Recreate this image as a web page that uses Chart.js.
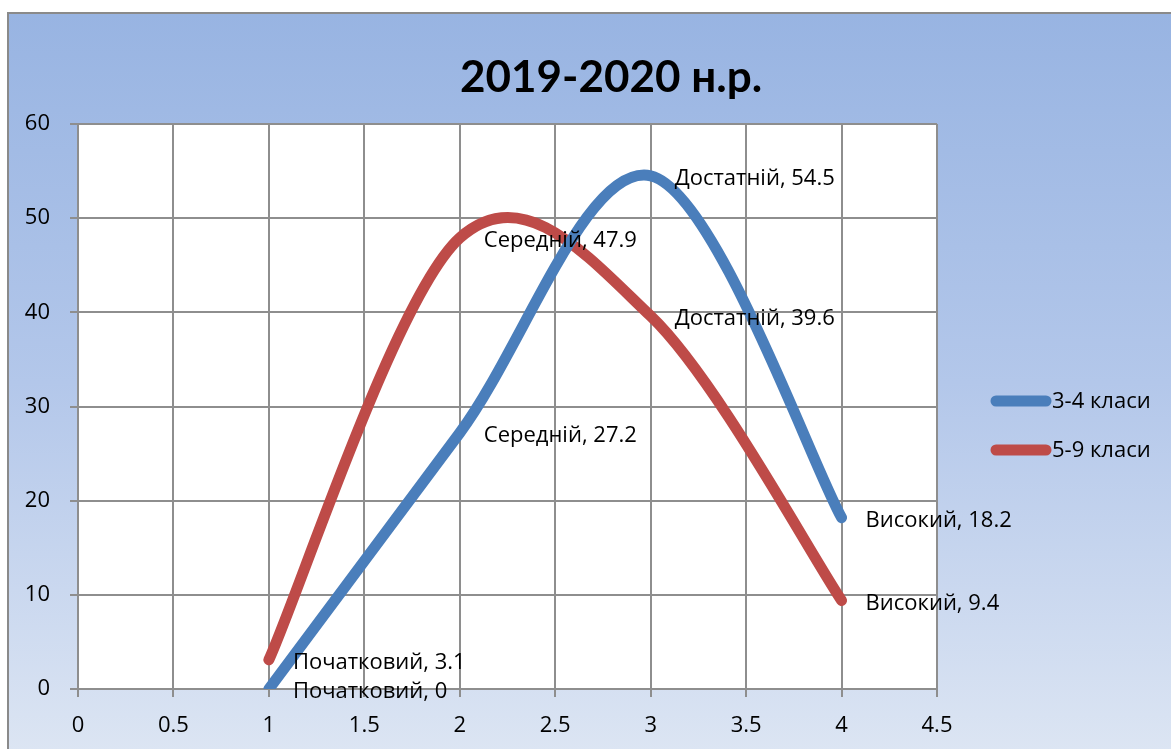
<!DOCTYPE html>
<html>
<head>
<meta charset="utf-8">
<script src="https://cdn.jsdelivr.net/npm/chart.js@4"></script>
<style>
    body { margin: 0; background: #fff; }
    #bg {
        position: absolute; left: 7px; top: 12px; width: 1164px; height: 737px;
        background: linear-gradient(to bottom, #98b4e2 0%, #b3c7ea 50%, #dce5f3 100%);
        border-left: 2px solid #8a8a8a; border-top: 2px solid #8a8a8a;
    }
    #wrap { position: absolute; left: 0; top: 0; width: 1171px; height: 749px; }
</style>
</head>
<body>
<div id="bg"></div>
<div id="wrap"><canvas id="mainChart" width="1171" height="749"></canvas></div>
<script>
// chart data
const levels = ["Початковий", "Середній", "Достатній", "Високий"];
const xValues = [1, 2, 3, 4];
const grades34 = [0, 27.2, 54.5, 18.2];
const grades59 = [3.1, 47.9, 39.6, 9.4];
const seriesNames = ["3-4 класи", "5-9 класи"];
const seriesColors = ["#4a7ebb", "#be4b48"];
const chartTitle = "2019-2020 н.р.";

const FONT = "'Open Sans', sans-serif";
const TITLE_FONT = "Lato, 'Open Sans', sans-serif";

function toPoints(values) {
    return values.map((v, i) => ({ x: xValues[i], y: v }));
}

// Excel-like smoothing: uniform Catmull-Rom control points
const smoothLines = {
    id: "smoothLines",
    beforeDatasetDraw(chart, args) {
        const meta = args.meta;
        meta.dataset.updateControlPoints(chart.chartArea, meta.iScale.axis);
        const pts = meta.data;
        pts.forEach((p, i) => {
            const prev = pts[i - 1] || p;
            const next = pts[i + 1] || p;
            const dx = (next.x - prev.x) / 6;
            const dy = (next.y - prev.y) / 6;
            p.cp1x = p.x - dx; p.cp1y = p.y - dy;
            p.cp2x = p.x + dx; p.cp2y = p.y + dy;
        });
        meta.dataset._path = undefined;
    }
};

// labels next to each point: "Category, value"
const pointLabels = {
    id: "pointLabels",
    afterDatasetsDraw(chart) {
        const ctx = chart.ctx;
        ctx.save();
        ctx.font = "22px " + FONT;
        ctx.fillStyle = "#000";
        ctx.textBaseline = "middle";
        ctx.textAlign = "left";
        chart.data.datasets.forEach((ds, di) => {
            const meta = chart.getDatasetMeta(di);
            meta.data.forEach((pt, i) => {
                ctx.fillText(levels[i] + ", " + ds.data[i].y, pt.x + 24, pt.y + 3);
            });
        });
        ctx.restore();
    }
};

// title + legend on the right
const decorations = {
    id: "decorations",
    afterDraw(chart) {
        const ctx = chart.ctx;
        ctx.save();
        ctx.font = "bold 44px " + TITLE_FONT;
        ctx.fillStyle = "#000";
        ctx.textAlign = "center";
        ctx.textBaseline = "middle";
        ctx.fillText(chartTitle, 611, 78);

        ctx.font = "22px " + FONT;
        ctx.textAlign = "left";
        chart.data.datasets.forEach((ds, i) => {
            const y = 401 + i * 49;
            ctx.strokeStyle = ds.borderColor;
            ctx.lineWidth = 11;
            ctx.lineCap = "round";
            ctx.beginPath();
            ctx.moveTo(996, y);
            ctx.lineTo(1046, y);
            ctx.stroke();
            ctx.fillText(ds.label, 1052, y + 1);
        });
        ctx.restore();
    }
};

const plotBg = {
    id: "plotBg",
    beforeDraw(chart) {
        const a = chart.chartArea;
        chart.ctx.save();
        chart.ctx.fillStyle = "#fff";
        chart.ctx.fillRect(a.left, a.top, a.right - a.left, a.bottom - a.top);
        chart.ctx.restore();
    }
};

const gridStyle = { color: "#8e8e8e", lineWidth: 2, tickLength: 8 };
const tickFont = { family: FONT, size: 22 };

new Chart(document.getElementById("mainChart"), {
    type: "scatter",
    data: {
        datasets: [
            { label: seriesNames[0], data: toPoints(grades34), borderColor: seriesColors[0], backgroundColor: seriesColors[0] },
            { label: seriesNames[1], data: toPoints(grades59), borderColor: seriesColors[1], backgroundColor: seriesColors[1] }
        ].map(d => Object.assign(d, {
            showLine: true, tension: 0.4, borderWidth: 11, pointRadius: 0,
            borderCapStyle: "round", borderJoinStyle: "round"
        }))
    },
    options: {
        responsive: false,
        animation: false,
        layout: { padding: { top: 124, right: 234, left: 0, bottom: 0 } },
        plugins: { legend: { display: false }, tooltip: { enabled: false }, title: { display: false } },
        scales: {
            x: {
                type: "linear", min: 0, max: 4.5,
                grid: gridStyle,
                border: { color: "#8e8e8e", width: 2 },
                ticks: { stepSize: 0.5, color: "#000", padding: 16, font: tickFont, callback: v => String(v) },
                afterFit(scale) { scale.height = 60; }
            },
            y: {
                min: 0, max: 60,
                grid: gridStyle,
                border: { color: "#8e8e8e", width: 2 },
                ticks: { stepSize: 10, color: "#000", padding: 20, font: tickFont, callback: v => String(v) },
                afterFit(scale) { scale.width = 78; }
            }
        }
    },
    plugins: [plotBg, smoothLines, pointLabels, decorations]
});
</script>
</body>
</html>
